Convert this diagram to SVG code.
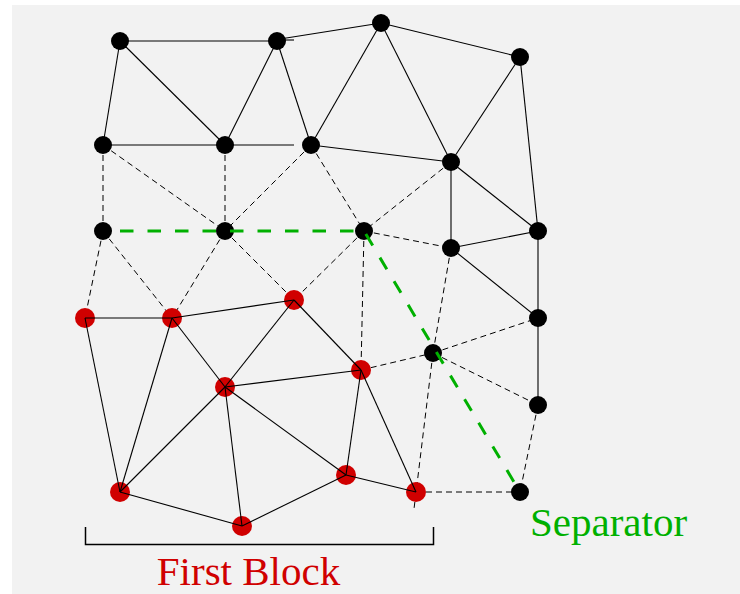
<svg xmlns="http://www.w3.org/2000/svg" width="740" height="594" viewBox="0 0 740 594">
<style>
.s{stroke:#000;stroke-width:1.1;fill:none}
.d{stroke:#000;stroke-width:1;fill:none;stroke-dasharray:6,4}
.g{stroke:#00b000;stroke-width:3;fill:none;stroke-dasharray:13.5,14}
.b{fill:#000}
.r{fill:#d00000}
.lbl{font-family:"Liberation Serif","Times New Roman",serif;font-size:41px}
</style>
<rect x="0" y="0" width="740" height="594" fill="#fff"/>
<rect x="12" y="5" width="728" height="589" fill="#f2f2f2"/>
<g id="connectors">
<g id="dashed">
<line class="d" x1="103" y1="145" x2="103" y2="231"/>
<line class="d" x1="103" y1="145" x2="225" y2="231"/>
<line class="d" x1="225" y1="145" x2="225" y2="231"/>
<line class="d" x1="311" y1="145" x2="225" y2="231"/>
<line class="d" x1="311" y1="145" x2="364" y2="231"/>
<line class="d" x1="451" y1="162" x2="364" y2="231"/>
<line class="d" x1="103" y1="231" x2="85" y2="318"/>
<line class="d" x1="103" y1="231" x2="172" y2="318"/>
<line class="d" x1="225" y1="231" x2="172" y2="318"/>
<line class="d" x1="225" y1="231" x2="294" y2="300"/>
<line class="d" x1="364" y1="231" x2="294" y2="300"/>
<line class="d" x1="364" y1="231" x2="361" y2="370"/>
<line class="d" x1="364" y1="231" x2="451" y2="248"/>
<line class="d" x1="451" y1="248" x2="433" y2="353"/>
<line class="d" x1="361" y1="370" x2="433" y2="353"/>
<line class="d" x1="433" y1="353" x2="538" y2="318"/>
<line class="d" x1="433" y1="353" x2="538" y2="405"/>
<line class="d" x1="433" y1="353" x2="414" y2="509"/>
<line class="d" x1="538" y1="405" x2="520" y2="492"/>
<line class="d" x1="416" y1="492" x2="520" y2="492"/>
</g>
<g id="solid">
<line class="s" x1="120" y1="41" x2="277" y2="41"/>
<line class="s" x1="120" y1="41" x2="103" y2="145"/>
<line class="s" x1="120" y1="41" x2="225" y2="145"/>
<line class="s" x1="277" y1="41" x2="225" y2="145"/>
<line class="s" x1="277" y1="41" x2="311" y2="145"/>
<line class="s" x1="280" y1="39" x2="381" y2="23"/>
<line class="s" x1="277" y1="40" x2="294" y2="40"/>
<line class="s" x1="381" y1="23" x2="311" y2="145"/>
<line class="s" x1="381" y1="23" x2="451" y2="162"/>
<line class="s" x1="381" y1="23" x2="520" y2="57"/>
<line class="s" x1="520" y1="57" x2="451" y2="162"/>
<line class="s" x1="520" y1="57" x2="538" y2="231"/>
<line class="s" x1="103" y1="145" x2="225" y2="145"/>
<line class="s" x1="225" y1="145" x2="294" y2="145"/>
<line class="s" x1="311" y1="145" x2="451" y2="162"/>
<line class="s" x1="451" y1="162" x2="451" y2="248"/>
<line class="s" x1="451" y1="162" x2="538" y2="231"/>
<line class="s" x1="451" y1="248" x2="538" y2="231"/>
<line class="s" x1="451" y1="248" x2="538" y2="318"/>
<line class="s" x1="538" y1="231" x2="538" y2="318"/>
<line class="s" x1="538" y1="318" x2="538" y2="405"/>
</g>
</g>
<g id="nodes">
<circle id="n1" class="b" cx="120" cy="41" r="9"/>
<circle id="n2" class="b" cx="277" cy="41" r="9"/>
<circle id="n3" class="b" cx="381" cy="23" r="9"/>
<circle id="n4" class="b" cx="520" cy="57" r="9"/>
<circle id="n5" class="b" cx="103" cy="145" r="9"/>
<circle id="n6" class="b" cx="225" cy="145" r="9"/>
<circle id="n7" class="b" cx="311" cy="145" r="9"/>
<circle id="n8" class="b" cx="451" cy="162" r="9"/>
<circle id="n9" class="b" cx="103" cy="231" r="9"/>
<circle id="n10" class="b" cx="225" cy="231" r="9"/>
<circle id="n11" class="b" cx="364" cy="231" r="9"/>
<circle id="n12" class="b" cx="451" cy="248" r="9"/>
<circle id="n13" class="b" cx="538" cy="231" r="9"/>
<circle id="n14" class="b" cx="538" cy="318" r="9"/>
<circle id="n15" class="b" cx="433" cy="353" r="9"/>
<circle id="n16" class="b" cx="538" cy="405" r="9"/>
<circle id="n17" class="b" cx="520" cy="492" r="9"/>
<circle id="r1" class="r" cx="85" cy="318" r="10"/>
<circle id="r2" class="r" cx="172" cy="318" r="10"/>
<circle id="r3" class="r" cx="294" cy="300" r="10"/>
<circle id="r4" class="r" cx="225" cy="387" r="10"/>
<circle id="r5" class="r" cx="361" cy="370" r="10"/>
<circle id="r6" class="r" cx="120" cy="492" r="10"/>
<circle id="r7" class="r" cx="242" cy="526" r="10"/>
<circle id="r8" class="r" cx="346" cy="475" r="10"/>
<circle id="r9" class="r" cx="416" cy="492" r="10"/>
</g>
<g id="block-edges">
<line class="s" x1="85" y1="318" x2="172" y2="318"/>
<line class="s" x1="85" y1="318" x2="120" y2="492"/>
<line class="s" x1="172" y1="318" x2="120" y2="492"/>
<line class="s" x1="172" y1="318" x2="294" y2="300"/>
<line class="s" x1="172" y1="318" x2="225" y2="387"/>
<line class="s" x1="294" y1="300" x2="225" y2="387"/>
<line class="s" x1="294" y1="300" x2="361" y2="370"/>
<line class="s" x1="225" y1="387" x2="361" y2="370"/>
<line class="s" x1="225" y1="387" x2="120" y2="492"/>
<line class="s" x1="225" y1="387" x2="242" y2="526"/>
<line class="s" x1="225" y1="387" x2="346" y2="475"/>
<line class="s" x1="361" y1="370" x2="346" y2="475"/>
<line class="s" x1="361" y1="370" x2="416" y2="492"/>
<line class="s" x1="120" y1="492" x2="242" y2="526"/>
<line class="s" x1="242" y1="526" x2="346" y2="475"/>
<line class="s" x1="346" y1="475" x2="416" y2="492"/>
</g>
<g id="separator">
<polyline class="g" points="120,231 364,231 517,487"/>
<text class="lbl" x="530" y="536" fill="#00b000">Separator</text>
</g>
<g id="first-block">
<path d="M85.5 527 V544.5 H433.5 V527" fill="none" stroke="#000" stroke-width="1.5"/>
<text class="lbl" x="248.5" y="585" fill="#d00000" text-anchor="middle" font-size="40">First Block</text>
</g>
</svg>
